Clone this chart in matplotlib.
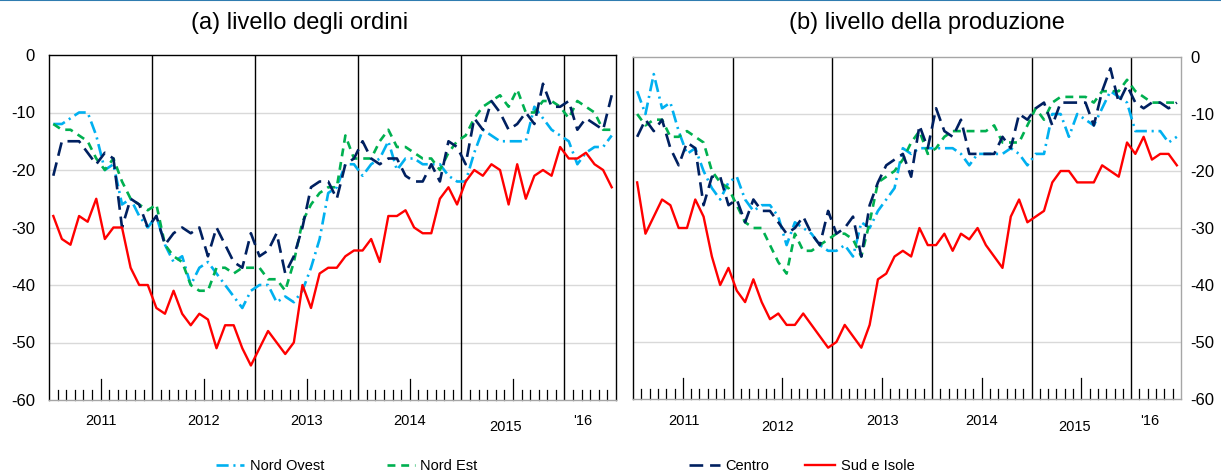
import matplotlib
matplotlib.use('Agg')
import matplotlib.pyplot as plt
from matplotlib.lines import Line2D
import numpy as np

plt.rcParams['font.family'] = ['Liberation Sans', 'DejaVu Sans']
plt.rcParams['axes.unicode_minus'] = False

# monthly data, Jan 2011 - Jun 2016
years = ['2011', '2012', '2013', '2014', '2015', "'16"]
series_names = ['Nord Ovest', 'Nord Est', 'Centro', 'Sud e Isole']

# (a) livello degli ordini
ovest_a = [-12, -12, -11, -10, -10, -14, -20, -19, -26, -25, -28, -30,
           -28, -33, -36, -35, -40, -37, -36, -38, -40, -42, -44, -41,
           -40, -40, -43, -42, -43, -41, -37, -32, -24, -23, -19, -19,
           -21, -19, -18, -15, -20, -18, -18, -19, -19, -19, -21, -22,
           -22, -17, -13, -14, -15, -15, -15, -15, -9, -11, -13, -14,
           -15, -19, -17, -16, -16, -14]
est_a = [-12, -13, -13, -14, -15, -18, -20, -18, -22, -25, -26, -27,
         -26, -33, -35, -36, -40, -41, -41, -37, -37, -38, -37, -37,
         -37, -39, -39, -41, -36, -29, -26, -24, -23, -23, -14, -18,
         -18, -18, -15, -13, -16, -16, -17, -18, -18, -20, -17, -15,
         -14, -11, -9, -8, -7, -9, -6, -10, -10, -8, -8, -9,
         -11, -8, -9, -10, -13, -13]
centro_a = [-21, -15, -15, -15, -17, -19, -17, -18, -30, -25, -26, -30,
            -28, -33, -31, -30, -31, -30, -35, -30, -33, -36, -37, -31,
            -35, -34, -31, -38, -35, -30, -23, -22, -22, -25, -19, -18,
            -15, -18, -19, -18, -18, -21, -22, -22, -19, -22, -15, -16,
            -19, -11, -13, -8, -10, -13, -12, -10, -12, -5, -9, -9,
            -8, -13, -11, -12, -13, -7]
sud_a = [-28, -32, -33, -28, -29, -25, -32, -30, -30, -37, -40, -40,
         -44, -45, -41, -45, -47, -45, -46, -51, -47, -47, -51, -54,
         -51, -48, -50, -52, -50, -40, -44, -38, -37, -37, -35, -34,
         -34, -32, -36, -28, -28, -27, -30, -31, -31, -25, -23, -26,
         -22, -20, -21, -19, -20, -26, -19, -25, -21, -20, -21, -16,
         -18, -18, -17, -19, -20, -23]

# (b) livello della produzione
ovest_b = [-6, -10, -3, -9, -8, -13, -17, -16, -20, -23, -25, -22,
           -21, -25, -27, -26, -26, -28, -33, -29, -30, -31, -33, -34,
           -34, -33, -35, -29, -30, -27, -25, -23, -16, -17, -16, -16,
           -16, -16, -16, -17, -19, -17, -17, -17, -17, -16, -17, -19,
           -17, -17, -10, -10, -14, -10, -11, -12, -9, -6, -7, -8,
           -13, -13, -13, -13, -15, -14]
est_b = [-10, -12, -11, -11, -14, -14, -13, -14, -15, -20, -22, -23,
         -26, -29, -30, -30, -33, -36, -38, -31, -34, -34, -33, -32,
         -31, -31, -32, -35, -29, -22, -21, -20, -18, -15, -13, -17,
         -16, -14, -13, -13, -13, -13, -13, -12, -15, -15, -15, -12,
         -9, -11, -8, -7, -7, -7, -7, -8, -6, -6, -6, -4,
         -6, -7, -8, -8, -8, -8]
centro_b = [-14, -11, -13, -11, -16, -19, -15, -16, -26, -21, -21, -26,
            -25, -29, -25, -27, -27, -29, -31, -30, -28, -31, -33, -27,
            -31, -30, -28, -35, -26, -22, -19, -18, -17, -21, -12, -16,
            -9, -13, -14, -11, -17, -17, -17, -17, -14, -16, -10, -11,
            -9, -8, -12, -8, -8, -8, -8, -12, -6, -2, -8, -5,
            -8, -9, -8, -8, -9, -8]
sud_b = [-22, -31, -28, -25, -26, -30, -30, -25, -28, -35, -40, -37,
         -41, -43, -39, -43, -46, -45, -47, -47, -45, -47, -49, -51,
         -50, -47, -49, -51, -47, -39, -38, -35, -34, -35, -30, -33,
         -33, -31, -34, -31, -32, -30, -33, -35, -37, -28, -25, -29,
         -28, -27, -22, -20, -20, -22, -22, -22, -19, -20, -21, -15,
         -17, -14, -18, -17, -17, -19]

C_OVEST = '#00B0F0'
C_EST = '#00B050'
C_CENTRO = '#002060'
C_SUD = '#FF0000'
GRID = '#D9D9D9'
SPINE_GREY = '#A6A6A6'

styles = [
    dict(color=C_OVEST, lw=1.9, linestyle=(0, (4.6, 1.8, 0.8, 1.8))),
    dict(color=C_EST, lw=1.9, linestyle=(0, (3.0, 2.2))),
    dict(color=C_CENTRO, lw=1.9, linestyle=(0, (5.2, 2.6))),
    dict(color=C_SUD, lw=1.7, linestyle='-'),
]

fig = plt.figure(figsize=(12.21, 4.76), dpi=100)
fig.patch.set_facecolor('white')

ax_a = fig.add_axes([49 / 1221, 76 / 476, 567 / 1221, 345 / 476])
ax_b = fig.add_axes([633 / 1221, 77 / 476, 548 / 1221, 342 / 476])

# thin blue rule across the very top
fig.add_artist(Line2D([0, 1], [0.999, 0.999], transform=fig.transFigure,
                      color='#2F7CB0', lw=1.5))


def draw_panel(ax, data, year_y, year_x, right_axis):
    n = len(data[0])
    x = np.arange(n) + 0.5
    ax.set_xlim(0, n)
    ax.set_ylim(-60, 0)
    ax.set_yticks(np.arange(-60, 1, 10))
    for yv in range(-50, 0, 10):
        ax.axhline(yv, color=GRID, lw=1, zorder=0)
    for b in range(12, n, 12):
        ax.axvline(b, color='black', lw=1, zorder=1)

    for vals, st in zip(data, styles):
        ax.plot(x, vals, zorder=3, **st)

    # month ticks inside, longer tick at mid-year
    ax.set_xticks([])
    for m in range(1, n):
        if m % 12 == 0:
            continue
        h = 3.6 if m % 12 == 6 else 1.8
        ax.plot([m, m], [-60, -60 + h], color='black', lw=0.9, zorder=2,
                clip_on=False)
    for lab, xx, yy in zip(years, year_x, year_y):
        ax.text(xx, yy, lab, ha='center', va='center', fontsize=10.5,
                clip_on=False)

    ax.tick_params(axis='y', length=0, labelsize=12, pad=10)
    if right_axis:
        ax.yaxis.tick_right()
        ax.tick_params(axis='y', pad=7)
        ax.spines['left'].set_color('black')
        ax.spines['top'].set_color(SPINE_GREY)
        ax.spines['right'].set_color(SPINE_GREY)
    else:
        for s in ['left', 'top', 'right']:
            ax.spines[s].set_color('black')
    ax.spines['bottom'].set_color(SPINE_GREY)
    for s in ax.spines.values():
        s.set_linewidth(1)


draw_panel(ax_a, [ovest_a, est_a, centro_a, sud_a],
           [-63.6, -63.6, -63.6, -63.6, -64.7, -63.6],
           [6, 18, 30, 42, 53.2, 62.1], right_axis=False)
draw_panel(ax_b, [ovest_b, est_b, centro_b, sud_b],
           [-63.9, -64.9, -63.9, -63.9, -64.9, -63.9],
           [6.1, 17.4, 30, 42, 53.2, 62.2], right_axis=True)

fig.text(300 / 1221, 1 - 23 / 476, '(a) livello degli ordini',
         ha='center', va='center', fontsize=17)
fig.text(927 / 1221, 1 - 23 / 476, '(b) livello della produzione',
         ha='center', va='center', fontsize=17)

handles = [Line2D([], [], **st) for st in styles]
fig.legend(handles[:2], series_names[:2], loc='center',
           bbox_to_anchor=(347 / 1221, 0.021), ncol=2, frameon=False,
           fontsize=10.5, handlelength=1.9, handletextpad=0.4,
           columnspacing=4.3)
fig.legend(handles[2:], series_names[2:], loc='center',
           bbox_to_anchor=(802 / 1221, 0.021), ncol=2, frameon=False,
           fontsize=10.5, handlelength=2.1, handletextpad=0.4,
           columnspacing=2.4)

fig.savefig('out.png', dpi=100, facecolor='white')
